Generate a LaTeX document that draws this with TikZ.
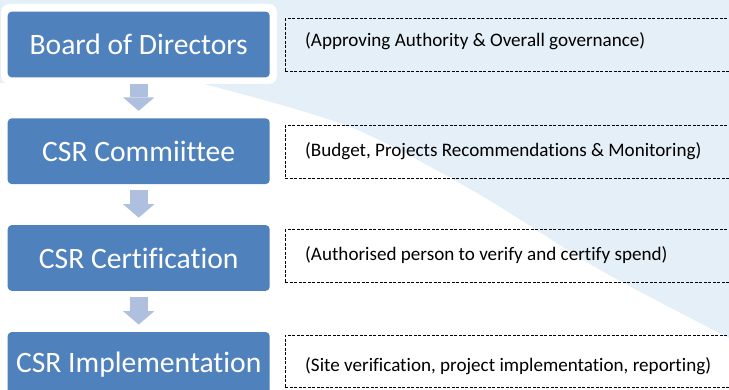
\documentclass[tikz,border=0pt]{standalone}
\usepackage{fontspec}
\setmainfont{Carlito}[Ligatures={NoCommon,NoRare}]
\usetikzlibrary{arrows.meta}
\definecolor{bg}{RGB}{228,239,247}
\definecolor{boxblue}{RGB}{79,129,189}
\definecolor{arrowc}{RGB}{174,192,222}
\begin{document}
\begin{tikzpicture}[x=1pt,y=-1pt,
  bluebox/.style={fill=boxblue, text=white, rounded corners=4pt, minimum width=262pt, minimum height=65.7pt, inner sep=0pt, font=\fontsize{29.6}{34}\selectfont},
  flowarrow/.style={draw=arrowc, line width=18pt, line cap=butt, -{Triangle[width=31.5pt,length=13.5pt,line width=0pt]}, shorten <=6.2pt, shorten >=7.3pt},
  dbox/.style={draw=black, dash pattern=on 3pt off 1.5pt, line width=0.9pt, minimum height=52.7pt, minimum width=460pt, anchor=west, inner sep=0pt},
  dtext/.style={anchor=west, inner sep=0pt, text=black, font=\fontsize{19.1}{23}\selectfont}]
\useasboundingbox (0,0) rectangle (729,390);
\clip (0,0) rectangle (729,390);
% background
\fill[bg] (0,0) rectangle (729,390);
\fill[white] (0,83) -- (200,83) -- plot[smooth] coordinates {(200,83) (350,127) (480,195) (600,270) (729,338)} -- (729,390) -- (0,390) -- cycle;
\fill[white, rounded corners=8pt] (1,4) rectangle (277,84);
% blue boxes
\node[bluebox] (b1) at (138.7,44.5) {Board of Directors};
\node[bluebox] (b2) at (138.7,151.2) {CSR Commiittee};
\node[bluebox] (b3) at (138.7,258) {CSR Certification};
\node[bluebox] (b4) at (138.7,364.9) {CSR Implementation};
% arrows
\draw[flowarrow] (b1.south) -- (b2.north);
\draw[flowarrow] (b2.south) -- (b3.north);
\draw[flowarrow] (b3.south) -- (b4.north);
% dashed boxes
\node[dbox] (d1) at (285,45.3) {};
\node[dbox] (d2) at (285,152) {};
\node[dbox] (d3) at (285,256.3) {};
\node[dbox] (d4) at (285,361.4) {};
\node[dtext] (t1) at (305,41) {(Approving Authority \& Overall governance)};
\node[dtext] (t2) at (305,151.5) {(Budget, Projects Recommendations \& Monitoring)};
\node[dtext] (t3) at (305,255) {(Authorised person to verify and certify spend)};
\node[dtext] (t4) at (305,366) {(Site verification, project implementation, reporting)};
\end{tikzpicture}
\end{document}
